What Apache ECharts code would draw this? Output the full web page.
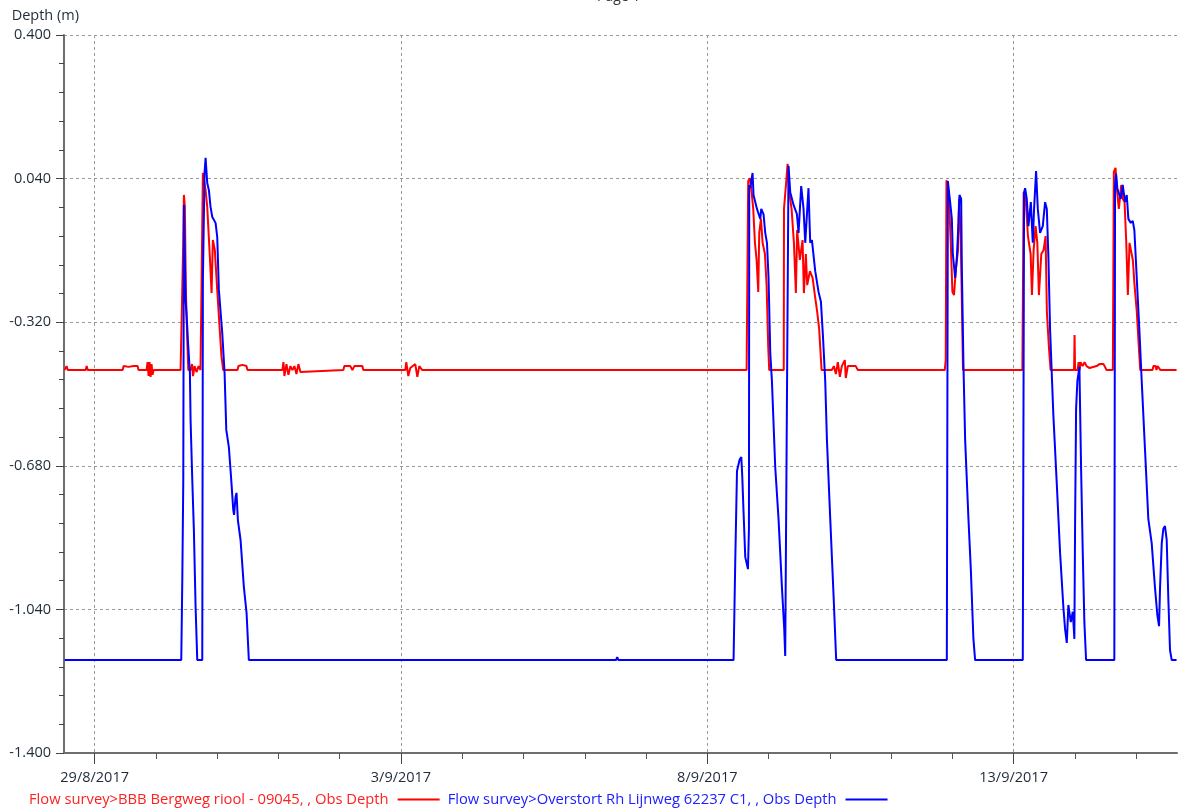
<!DOCTYPE html>
<html>
<head>
<meta charset="utf-8">
<script src="https://cdn.jsdelivr.net/npm/echarts@6/dist/echarts.min.js"></script>
<style>
html,body{margin:0;padding:0;background:#fff;}
#chart{width:1184px;height:809px;}
</style>
</head>
<body>
<div id="chart"></div>
<script>
// Time in days since 29/8/2017 00:00, depth in metres
const xTickDays = [0, 5, 10, 15];
const xTickLabels = ['29/8/2017', '3/9/2017', '8/9/2017', '13/9/2017'];
const xMinorDays = [0,1,2,3,4,5,6,7,8,9,10,11,12,13,14,15,16,17];
const redName = 'Flow survey>BBB Bergweg riool - 09045, , Obs Depth';
const blueName = 'Flow survey>Overstort Rh Lijnweg 62237 C1, , Obs Depth';

const redTimes = [-0.49,-0.473,-0.457,-0.440,-0.147,-0.130,-0.114,0.457,0.473,0.554,0.636,0.701,0.717,0.848,0.864,0.880,0.897,0.913,0.929,0.946,0.962,
1.403,1.431,1.447,1.457,1.473,1.489,1.512,1.529,1.565,1.590,1.606,1.631,1.663,1.696,1.728,1.757,1.767,1.783,1.811,1.838,1.881,1.909,1.930,1.962,2.001,2.039,2.071,2.099,
2.332,2.348,2.413,2.478,2.495,3.065,3.082,3.098,3.131,3.163,3.196,3.228,3.261,3.294,3.326,3.359,3.391,4.060,4.076,4.174,4.207,4.239,4.370,4.386,
5.071,5.087,5.120,5.152,5.234,5.267,5.299,5.348,
10.642,10.668,10.696,10.724,10.750,10.778,10.805,10.832,10.848,10.876,10.903,10.941,10.968,10.995,11.011,
11.248,11.252,11.284,11.311,11.337,11.376,11.414,11.446,11.467,11.511,11.555,11.577,11.609,11.631,11.675,11.719,11.756,11.794,11.826,11.866,
12.033,12.066,12.099,12.131,12.164,12.196,12.245,12.261,12.294,12.359,12.424,12.457,
13.876,13.892,13.904,13.946,13.974,14.001,14.027,14.055,14.093,14.109,14.137,14.158,14.174,
15.143,15.164,15.197,15.234,15.278,15.299,15.327,15.359,15.387,15.413,15.452,15.490,15.522,15.543,15.576,15.604,
15.987,15.995,16.003,16.044,16.061,16.077,16.093,16.126,16.158,16.191,16.240,16.272,16.354,16.403,16.468,16.517,
16.620,16.636,16.664,16.685,16.718,16.757,16.783,16.811,16.839,16.865,16.892,16.920,16.946,16.974,17.011,17.044,17.067,
17.267,17.283,17.316,17.332,17.349,17.381,17.398,17.66];
const redDepths = [-0.440,-0.440,-0.430,-0.440,-0.440,-0.430,-0.440,-0.440,-0.430,-0.432,-0.430,-0.430,-0.440,-0.440,-0.420,-0.455,-0.420,-0.457,-0.425,-0.452,-0.440,
-0.440,-0.440,-0.114,-0.001,-0.031,-0.239,-0.365,-0.440,-0.440,-0.425,-0.455,-0.430,-0.445,-0.430,-0.440,-0.440,0.054,0.057,0.011,-0.031,-0.157,-0.247,-0.114,-0.139,-0.239,-0.332,-0.407,-0.440,
-0.440,-0.430,-0.427,-0.430,-0.440,-0.440,-0.420,-0.455,-0.425,-0.452,-0.430,-0.440,-0.430,-0.450,-0.425,-0.445,-0.440,-0.440,-0.430,-0.430,-0.440,-0.430,-0.430,-0.440,
-0.440,-0.420,-0.455,-0.435,-0.425,-0.457,-0.430,-0.440,
-0.440,0.034,0.041,0.006,-0.036,-0.121,-0.164,-0.244,-0.096,-0.061,-0.121,-0.149,-0.227,-0.382,-0.440,
-0.440,-0.036,0.024,0.077,0.006,-0.036,-0.121,-0.247,-0.089,-0.164,-0.114,-0.247,-0.149,-0.227,-0.192,-0.209,-0.252,-0.294,-0.337,-0.440,
-0.440,-0.430,-0.450,-0.420,-0.457,-0.430,-0.415,-0.460,-0.430,-0.430,-0.430,-0.440,
-0.440,-0.415,0.036,-0.011,-0.121,-0.244,-0.252,-0.192,-0.139,-0.011,-0.104,-0.294,-0.440,
-0.440,0.006,-0.011,-0.104,-0.149,-0.252,-0.139,-0.079,-0.121,-0.252,-0.149,-0.139,-0.104,-0.294,-0.382,-0.440,
-0.440,-0.352,-0.440,-0.440,-0.420,-0.440,-0.420,-0.430,-0.420,-0.430,-0.435,-0.430,-0.430,-0.425,-0.425,-0.440,
-0.440,0.057,0.067,0.016,-0.036,0.024,-0.011,-0.019,-0.121,-0.252,-0.121,-0.121,-0.164,-0.227,-0.294,-0.382,-0.440,
-0.440,-0.430,-0.430,-0.440,-0.430,-0.430,-0.440,-0.440];

const blueTimes = [-0.49,1.370,1.414,1.431,1.447,1.457,1.473,1.485,1.512,1.522,1.555,1.566,1.594,1.620,1.648,1.675,1.757,1.767,1.783,1.794,1.811,1.838,1.865,1.892,1.920,1.946,1.974,2.001,2.028,2.083,2.121,2.149,2.191,2.230,2.263,2.276,2.300,2.316,2.338,2.382,2.436,2.480,2.517,
8.510,8.530,8.550,
10.429,10.457,10.485,10.527,10.555,10.571,10.592,10.620,10.664,10.680,10.685,10.701,10.739,10.755,10.811,10.865,10.881,10.918,10.946,10.974,11.000,11.028,11.055,11.109,11.163,11.219,11.256,11.272,
11.326,11.354,11.408,11.463,11.490,11.533,11.571,11.599,11.652,11.680,11.708,11.762,11.816,11.855,11.888,11.925,11.953,12.007,12.061,12.104,
13.910,13.927,13.936,13.964,13.992,14.008,14.046,14.074,14.100,14.116,14.144,14.155,14.181,14.209,14.263,14.302,14.344,14.372,
15.150,15.171,15.188,15.215,15.242,15.281,15.313,15.334,15.367,15.395,15.432,15.476,15.514,15.542,15.568,15.595,15.649,15.705,15.759,15.813,15.840,15.868,15.894,15.933,15.966,15.992,16.003,16.020,16.041,16.074,16.101,16.129,16.155,16.183,
16.644,16.656,16.672,16.693,16.726,16.749,16.781,16.819,16.847,16.873,16.912,16.945,16.971,17.010,17.052,17.091,17.145,17.199,17.254,17.308,17.346,17.374,17.390,17.418,17.444,17.471,17.499,17.525,17.553,17.581,17.66];
const blueDepths = [-1.167,-1.167,-1.167,-0.966,-0.716,-0.026,-0.031,-0.264,-0.332,-0.365,-0.447,-0.565,-0.716,-0.841,-1.034,-1.167,-1.167,-0.214,-0.214,0.054,0.092,0.029,0.011,-0.031,-0.056,-0.051,-0.071,-0.106,-0.239,-0.347,-0.447,-0.590,-0.633,-0.716,-0.791,-0.803,-0.758,-0.748,-0.816,-0.866,-0.984,-1.049,-1.167,
-1.167,-1.160,-1.167,
-1.167,-0.916,-0.693,-0.665,-0.658,-0.706,-0.796,-0.909,-0.939,-0.838,0.024,0.016,0.054,-0.001,-0.036,-0.061,-0.036,-0.049,-0.096,-0.121,-0.209,-0.397,-0.467,-0.683,-0.813,-0.986,-1.089,-1.157,
0.072,0.006,-0.026,-0.049,-0.096,0.021,-0.036,-0.121,0.016,-0.121,-0.114,-0.192,-0.244,-0.269,-0.355,-0.467,-0.615,-0.813,-1.004,-1.167,
-1.167,0.034,0.036,-0.019,-0.061,-0.149,-0.209,-0.157,-0.071,-0.001,-0.011,-0.182,-0.425,-0.615,-0.813,-0.941,-1.114,-1.167,
-1.167,0.006,0.016,-0.011,-0.079,-0.019,-0.121,-0.036,0.059,-0.036,-0.096,-0.079,-0.019,-0.036,-0.157,-0.337,-0.553,-0.726,-0.899,-1.036,-1.089,-1.124,-1.029,-1.072,-1.046,-1.114,-0.838,-0.538,-0.467,-0.432,-0.683,-0.899,-1.072,-1.167,
-1.167,0.024,0.052,0.016,-0.001,-0.011,0.024,-0.019,-0.001,-0.061,-0.071,-0.066,-0.089,-0.209,-0.337,-0.467,-0.640,-0.813,-0.874,-0.986,-1.054,-1.082,-0.986,-0.874,-0.838,-0.831,-0.866,-1.011,-1.142,-1.167,-1.167];

const zip = (a, b) => a.map((t, i) => [t, b[i]]);
const FONT = 'Open Sans';
const X_MIN = -0.5, X_MAX = 17.667;

const chart = echarts.init(document.getElementById('chart'), null, {renderer: 'canvas'});
chart.setOption({
  animation: false,
  backgroundColor: '#ffffff',
  title: {
    text: 'Page 1', left: 592, top: -15,
    textStyle: {fontFamily: FONT, fontSize: 14, fontWeight: 'normal', color: '#333'}
  },
  grid: {left: 64, right: 7, top: 35, bottom: 56, containLabel: false},
  legend: {
    left: 24, top: 787, align: 'right', icon: 'rect',
    itemWidth: 42, itemHeight: 2, itemGap: 8,
    textStyle: {fontFamily: FONT, fontSize: 14.75, padding: [0, 4, 0, 0]},
    data: [
      {name: redName, textStyle: {color: '#ff2020'}},
      {name: blueName, textStyle: {color: '#2020ff'}}
    ]
  },
  xAxis: [
    {
      type: 'value', min: X_MIN, max: X_MAX, position: 'bottom',
      axisLine: {show: true, onZero: false, lineStyle: {color: '#6e6e6e', width: 2}},
      axisTick: {show: true, length: 6, customValues: xMinorDays, lineStyle: {color: '#555', width: 1}},
      axisLabel: {show: false},
      splitLine: {show: false}
    },
    {
      type: 'value', min: X_MIN, max: X_MAX, position: 'bottom', offset: 0,
      axisLine: {show: false, onZero: false},
      axisTick: {show: true, length: 11, customValues: xTickDays, lineStyle: {color: '#444', width: 1}},
      axisLabel: {
        show: true, customValues: xTickDays, margin: 17,
        fontFamily: FONT, fontSize: 14.5, color: '#1f2b3a',
        formatter: v => { const i = xTickDays.indexOf(Math.round(v)); return i >= 0 ? xTickLabels[i] : ''; }
      },
      splitLine: {show: true, lineStyle: {color: '#9a9a9a', type: [3, 3], width: 1}}
    }
  ],
  yAxis: {
    type: 'value', min: -1.4, max: 0.4, interval: 0.36,
    name: 'Depth (m)', nameLocation: 'end', nameGap: 12,
    nameTextStyle: {fontFamily: FONT, fontSize: 14.5, color: '#1f2b3a', align: 'right', padding: [0, -15, 0, 0]},
    axisLine: {show: true, onZero: false, lineStyle: {color: '#6e6e6e', width: 2}},
    axisTick: {show: true, length: 8, lineStyle: {color: '#444'}},
    minorTick: {show: true, splitNumber: 5, length: 5, lineStyle: {color: '#444'}},
    axisLabel: {fontFamily: FONT, fontSize: 14.5, color: '#1f2b3a', margin: 13, formatter: v => v.toFixed(3)},
    splitLine: {show: true, lineStyle: {color: '#9a9a9a', type: [3, 3], width: 1}}
  },
  series: [
    {
      name: redName, type: 'line', xAxisIndex: 0, data: zip(redTimes, redDepths),
      showSymbol: false, symbol: 'none', sampling: 'none',
      lineStyle: {color: '#ff0000', width: 2}, itemStyle: {color: '#ff0000'}
    },
    {
      name: blueName, type: 'line', xAxisIndex: 0, data: zip(blueTimes, blueDepths),
      showSymbol: false, symbol: 'none', sampling: 'none',
      lineStyle: {color: '#0000ff', width: 2}, itemStyle: {color: '#0000ff'}
    }
  ]
});
</script>
</body>
</html>
